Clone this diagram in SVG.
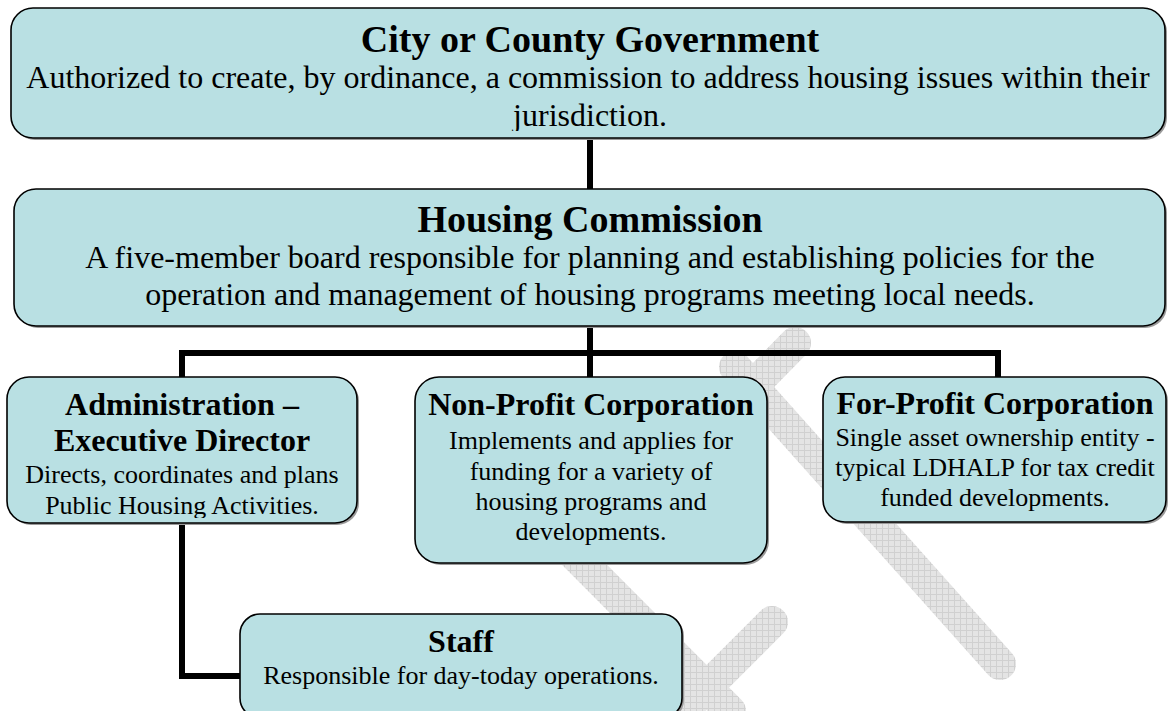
<svg xmlns="http://www.w3.org/2000/svg" width="1168" height="711" viewBox="0 0 1168 711">
<style>
.box{fill:#B9E0E3;stroke:#000;stroke-width:1.6}
.sh{fill:#9a9a9a}
.t{font-family:"Liberation Serif","Times New Roman",serif;fill:#000;text-anchor:middle}
.h1{font-size:38px;font-weight:bold}
.h2{font-size:32px;font-weight:bold}
.b1{font-size:32px}
.b2{font-size:26px}
.conn{fill:none;stroke:#000;stroke-width:6;stroke-linejoin:miter;stroke-linecap:butt}
.wm{fill:none;stroke:url(#hatch);stroke-width:32;stroke-linecap:round}
</style>
<defs>
<pattern id="hatch" patternUnits="userSpaceOnUse" width="6" height="6">
<rect width="6" height="6" fill="#e4e4e4"/>
<path d="M0 0.5H6M0.5 0V6" stroke="#d0d0d0" stroke-width="1"/>
</pattern>
<clipPath id="clipCity"><rect x="0" y="0" width="1168" height="131"/></clipPath>
<clipPath id="clipAdmin"><rect x="0" y="360" width="400" height="158"/></clipPath>
</defs>
<rect width="1168" height="711" fill="#fff"/>
<g id="watermark">
<path class="wm" d="M795 343L690 450"/>
<path class="wm" d="M735 367L1000 664"/>
<path class="wm" d="M520 500L730 711"/>
<path class="wm" d="M772 622L680 714"/>
</g>
<g id="connectors">
<path class="conn" d="M590 138V189"/>
<path class="conn" d="M182 377V353H998V377"/>
<path class="conn" d="M590 326V377"/>
<path class="conn" d="M182 523V676H240"/>
</g>
<g id="city">
<rect class="sh" x="13" y="10" width="1154" height="130" rx="22"/>
<rect class="box" x="11" y="8" width="1154" height="130" rx="22"/>
<text class="t h1" x="590" y="52">City or County Government</text>
<text class="t b1" x="588" y="88">Authorized to create, by ordinance, a commission to address housing issues within their</text>
<text class="t b1" x="590" y="126" clip-path="url(#clipCity)">jurisdiction.</text>
</g>
<g id="housing">
<rect class="sh" x="16" y="191" width="1151" height="137" rx="22"/>
<rect class="box" x="14" y="189" width="1151" height="137" rx="22"/>
<text class="t h1" x="590" y="232">Housing Commission</text>
<text class="t b1" x="590" y="268">A five-member board responsible for planning and establishing policies for the</text>
<text class="t b1" x="590" y="305">operation and management of housing programs meeting local needs.</text>
</g>
<g id="admin">
<rect class="sh" x="9" y="379" width="350" height="146" rx="22"/>
<rect class="box" x="7" y="377" width="350" height="146" rx="22"/>
<text class="t h2" x="182" y="415">Administration –</text>
<text class="t h2" x="182" y="451">Executive Director</text>
<text class="t b2" x="182" y="483">Directs, coordinates and plans</text>
<text class="t b2" x="182" y="514" clip-path="url(#clipAdmin)">Public Housing Activities.</text>
</g>
<g id="nonprofit">
<rect class="sh" x="417" y="379" width="352" height="186" rx="24"/>
<rect class="box" x="415" y="377" width="352" height="186" rx="24"/>
<text class="t h2" x="591" y="415">Non-Profit Corporation</text>
<text class="t b2" x="591" y="449">Implements and applies for</text>
<text class="t b2" x="591" y="480">funding for a variety of</text>
<text class="t b2" x="591" y="510">housing programs and</text>
<text class="t b2" x="591" y="540">developments.</text>
</g>
<g id="forprofit">
<rect class="sh" x="825" y="379" width="343" height="145" rx="22"/>
<rect class="box" x="823" y="377" width="343" height="145" rx="22"/>
<text class="t h2" x="995" y="414">For-Profit Corporation</text>
<text class="t b2" x="995" y="446">Single asset ownership entity -</text>
<text class="t b2" x="995" y="476">typical LDHALP for tax credit</text>
<text class="t b2" x="995" y="506">funded developments.</text>
</g>
<g id="staff">
<rect class="sh" x="242" y="616" width="442" height="104" rx="20"/>
<rect class="box" x="240" y="614" width="442" height="104" rx="20"/>
<text class="t h2" x="461" y="652">Staff</text>
<text class="t b2" x="461" y="684">Responsible for day-today operations.</text>
</g>
</svg>
